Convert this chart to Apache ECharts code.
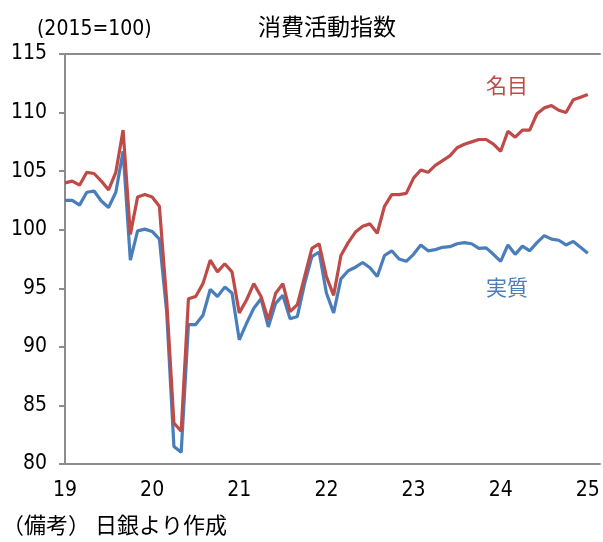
<!DOCTYPE html>
<html>
<head>
<meta charset="utf-8">
<script src="https://cdn.jsdelivr.net/npm/echarts@6/dist/echarts.min.js"></script>
<style>
  html, body { margin: 0; padding: 0; background: #fff; }
  #mychart { width: 603px; height: 542px; }
</style>
</head>
<body>
<div id="mychart"></div>
<script>
// 月次データ 2019年1月〜2025年1月
const startYear = 2019;
const yearLabels = [2019, 2020, 2021, 2022, 2023, 2024, 2025];
const nominal = [
  104.0, 104.15, 103.8, 104.9, 104.8, 104.15, 103.4, 104.9, 108.5, 99.6, 102.8, 103.0,
  102.8, 102.0, 94.0, 83.5, 82.8, 94.1, 94.3, 95.4, 97.4, 96.4, 97.1, 96.4,
  92.9, 94.0, 95.4, 94.3, 92.3, 94.55, 95.4, 93.0, 93.6, 96.0, 98.4, 98.8,
  96.0, 94.4, 97.8, 98.9, 99.8, 100.3, 100.5, 99.7, 102.0, 103.0, 103.0, 103.1,
  104.4, 105.1, 104.9, 105.5, 105.9, 106.3, 107.0, 107.3, 107.5, 107.7, 107.7, 107.3,
  106.7, 108.4, 107.9, 108.5, 108.5, 109.9, 110.4, 110.6, 110.2, 110.0, 111.1, 111.3,
  111.55
];
const real = [
  102.5, 102.5, 102.1, 103.2, 103.3, 102.45, 101.9, 103.2, 106.7, 97.4, 99.9, 100.05,
  99.85, 99.2, 93.0, 81.5, 81.0, 91.9, 91.9, 92.7, 94.9, 94.3, 95.1, 94.6,
  90.6, 92.0, 93.3, 94.1, 91.7, 93.7, 94.4, 92.4, 92.6, 95.4, 97.7, 98.1,
  94.6, 92.9, 95.8, 96.5, 96.8, 97.2, 96.75, 96.0, 97.8, 98.2, 97.5, 97.3,
  97.9, 98.7, 98.2, 98.3, 98.5, 98.55, 98.8, 98.9, 98.8, 98.4, 98.45, 97.9,
  97.3, 98.7, 97.9, 98.6, 98.2, 98.9, 99.5, 99.2, 99.1, 98.7, 99.0, 98.5,
  98.0
];

const colors = {
  nominal: '#BE4B48',
  real: '#4A7EBB',
  axis: '#8C8C8C',
  text: '#000',
};
const numFont = "'Liberation Sans Narrow', 'DejaVu Sans Condensed', 'Noto Sans CJK JP', sans-serif";
const jpFont = "'Noto Sans CJK JP', sans-serif";

function toPoints(values) {
  return values.map((v, i) => [startYear + i / 12, v]);
}

let myChart = echarts.init(document.getElementById('mychart'));

let option = {
  animation: false,
  title: {
    text: '消費活動指数',
    left: 253,
    top: 10,
    textStyle: { fontFamily: jpFont, fontSize: 23, fontWeight: 'normal', color: colors.text },
  },
  graphic: [
    {
      type: 'text', left: 37, top: 19,
      style: { text: '(2015=100)', font: '21px ' + numFont, fill: colors.text },
    },
    {
      type: 'text', left: 2, top: 514,
      style: { text: '（備考） 日銀より作成', font: '22px ' + jpFont, fill: colors.text },
    },
    {
      type: 'text', left: 486, top: 75,
      style: { text: '名目', font: '21px ' + jpFont, fill: colors.nominal },
    },
    {
      type: 'text', left: 486, top: 277,
      style: { text: '実質', font: '21px ' + jpFont, fill: colors.real },
    },
  ],
  grid: { left: 65, right: 3, top: 54, bottom: 78 },
  xAxis: [
    {
      type: 'value',
      min: 2019,
      max: 2025.14,
      splitLine: { show: false },
      axisTick: { show: false },
      axisLine: { lineStyle: { color: colors.axis, width: 2 } },
      axisLabel: {
        customValues: yearLabels,
        formatter: (v) => String(v).slice(2),
        color: colors.text,
        fontFamily: numFont,
        fontSize: 21,
        margin: 16,
      },
    },
    {
      // 上の枠線
      type: 'value',
      position: 'top',
      min: 2019,
      max: 2025.14,
      splitLine: { show: false },
      axisTick: { show: false },
      axisLabel: { show: false },
      axisLine: { show: true, lineStyle: { color: colors.axis, width: 2 } },
    },
  ],
  yAxis: {
    type: 'value',
    min: 80,
    max: 115,
    interval: 5,
    splitLine: { show: false },
    axisLine: { show: true, lineStyle: { color: colors.axis, width: 2 } },
    axisTick: { show: true, length: 6, lineStyle: { color: colors.axis, width: 2 } },
    axisLabel: {
      color: colors.text,
      fontFamily: numFont,
      fontSize: 21,
      margin: 18,
    },
  },
  series: [
    {
      name: '実質',
      type: 'line',
      showSymbol: false,
      data: toPoints(real),
      lineStyle: { color: colors.real, width: 3.2 },
      itemStyle: { color: colors.real },
    },
    {
      name: '名目',
      type: 'line',
      showSymbol: false,
      data: toPoints(nominal),
      lineStyle: { color: colors.nominal, width: 3.2 },
      itemStyle: { color: colors.nominal },
    },
  ],
};

myChart.setOption(option);
</script>
</body>
</html>
